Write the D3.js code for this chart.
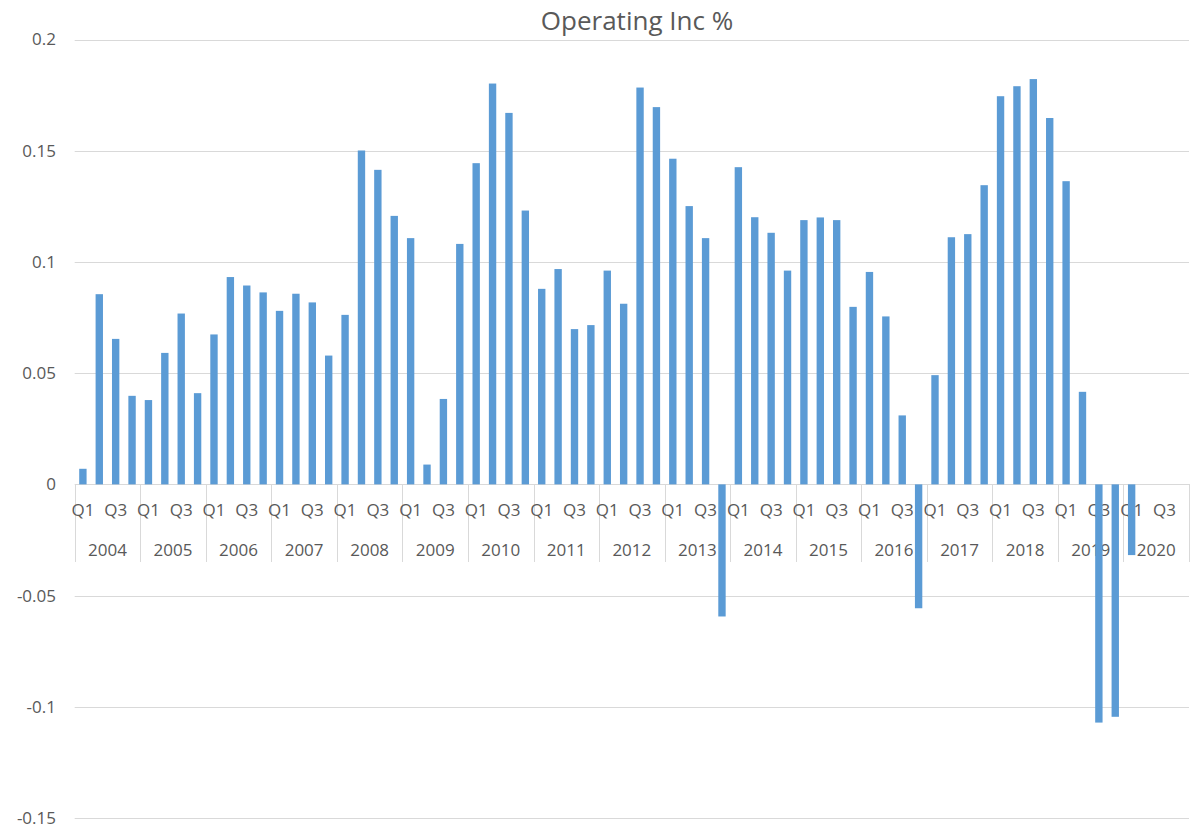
<!DOCTYPE html>
<html>
<head>
<meta charset="utf-8">
<script src="https://cdn.jsdelivr.net/npm/d3@7"></script>
<style>
  html, body { margin: 0; padding: 0; background: #fff; }
  text { font-family: "Open Sans", sans-serif; fill: #595959; }
</style>
</head>
<body>
<svg id="chart"></svg>
<script>
const WIDTH = 1190,
  HEIGHT = 833,
  BAR_COLOR = "#5b9bd5",
  GRID_COLOR = "#d9d9d9";

// categories
const years = [2004, 2005, 2006, 2007, 2008, 2009, 2010, 2011, 2012, 2013, 2014, 2015, 2016, 2017, 2018, 2019, 2020];
const quarters = ["Q1", "Q2", "Q3", "Q4"];
const shownQuarters = ["Q1", "Q3"];

// Operating Inc % per quarter (null = no value)
const val2004 = [0.0070, 0.0855, 0.0654, 0.0398];
const val2005 = [0.0379, 0.0591, 0.0768, 0.0410];
const val2006 = [0.0674, 0.0932, 0.0894, 0.0863];
const val2007 = [0.0780, 0.0857, 0.0818, 0.0579];
const val2008 = [0.0762, 0.1501, 0.1414, 0.1207];
const val2009 = [0.1107, 0.0089, 0.0384, 0.1081];
const val2010 = [0.1444, 0.1802, 0.1670, 0.1231];
const val2011 = [0.0879, 0.0968, 0.0698, 0.0716];
const val2012 = [0.0961, 0.0812, 0.1784, 0.1696];
const val2013 = [0.1464, 0.1251, 0.1107, -0.0594];
const val2014 = [0.1426, 0.1201, 0.1131, 0.0961];
const val2015 = [0.1188, 0.1200, 0.1188, 0.0798];
const val2016 = [0.0955, 0.0755, 0.0310, -0.0557];
const val2017 = [0.0491, 0.1111, 0.1125, 0.1345];
const val2018 = [0.1745, 0.1790, 0.1822, 0.1647];
const val2019 = [0.1363, 0.0416, -0.1071, -0.1045];
const val2020 = [-0.0318, null, null, null];

const yTicks = [-0.15, -0.1, -0.05, 0, 0.05, 0.1, 0.15, 0.2];

const values = [val2004, val2005, val2006, val2007, val2008, val2009, val2010, val2011,
  val2012, val2013, val2014, val2015, val2016, val2017, val2018, val2019, val2020];

let data = [];
years.forEach((yr, i) => {
  quarters.forEach((q, j) => {
    data.push({ key: yr + "-" + q, year: yr, quarter: q, value: values[i][j] });
  });
});

const margin = { top: 39.5, right: 1, bottom: 15, left: 74.7 };

const svg = d3.select("#chart")
  .attr("width", WIDTH)
  .attr("height", HEIGHT);

const x = d3.scaleBand()
  .domain(data.map(d => d.key))
  .range([margin.left, WIDTH - margin.right])
  .paddingInner(0.55)
  .paddingOuter(0.275);

const y = d3.scaleLinear()
  .domain([-0.15, 0.2])
  .range([HEIGHT - margin.bottom, margin.top]);

const yearScale = d3.scaleBand()
  .domain(years)
  .range([margin.left, WIDTH - margin.right]);

// title
svg.append("text")
  .attr("x", 637)
  .attr("y", 30)
  .attr("text-anchor", "middle")
  .attr("font-size", 26)
  .text("Operating Inc %");

// gridlines
svg.append("g")
  .selectAll("line")
  .data(yTicks)
  .enter()
  .append("line")
  .attr("x1", margin.left)
  .attr("x2", WIDTH - margin.right)
  .attr("y1", d => Math.round(y(d)) + 0.5)
  .attr("y2", d => Math.round(y(d)) + 0.5)
  .attr("stroke", GRID_COLOR)
  .attr("stroke-width", 1);

// y labels
svg.append("g")
  .selectAll("text")
  .data(yTicks)
  .enter()
  .append("text")
  .attr("x", 56)
  .attr("y", d => y(d))
  .attr("dy", "0.35em")
  .attr("text-anchor", "end")
  .attr("font-size", 17)
  .text(d => String(d));

// category axis: year separators
const y0 = Math.round(y(0));
const bounds = years.map(yr => yearScale(yr)).concat([WIDTH - margin.right - 0.5]);
svg.append("g")
  .selectAll("line")
  .data(bounds)
  .enter()
  .append("line")
  .attr("x1", d => Math.round(d) + 0.5)
  .attr("x2", d => Math.round(d) + 0.5)
  .attr("y1", y0)
  .attr("y2", 562)
  .attr("stroke", GRID_COLOR)
  .attr("stroke-width", 1);

// quarter labels
svg.append("g")
  .selectAll("text")
  .data(data.filter(d => shownQuarters.includes(d.quarter)))
  .enter()
  .append("text")
  .attr("x", d => x(d.key) + x.bandwidth() / 2)
  .attr("y", 510)
  .attr("dy", "0.35em")
  .attr("text-anchor", "middle")
  .attr("font-size", 17)
  .text(d => d.quarter);

// year labels
svg.append("g")
  .selectAll("text")
  .data(years)
  .enter()
  .append("text")
  .attr("x", d => yearScale(d) + yearScale.bandwidth() / 2)
  .attr("y", 550)
  .attr("dy", "0.35em")
  .attr("text-anchor", "middle")
  .attr("font-size", 17)
  .text(d => d);

// bars
svg.append("g")
  .selectAll("rect")
  .data(data.filter(d => d.value !== null))
  .enter()
  .append("rect")
  .attr("x", d => x(d.key))
  .attr("width", x.bandwidth())
  .attr("y", d => Math.min(y(d.value), y(0)))
  .attr("height", d => Math.abs(y(d.value) - y(0)))
  .attr("fill", BAR_COLOR);
</script>
</body>
</html>
